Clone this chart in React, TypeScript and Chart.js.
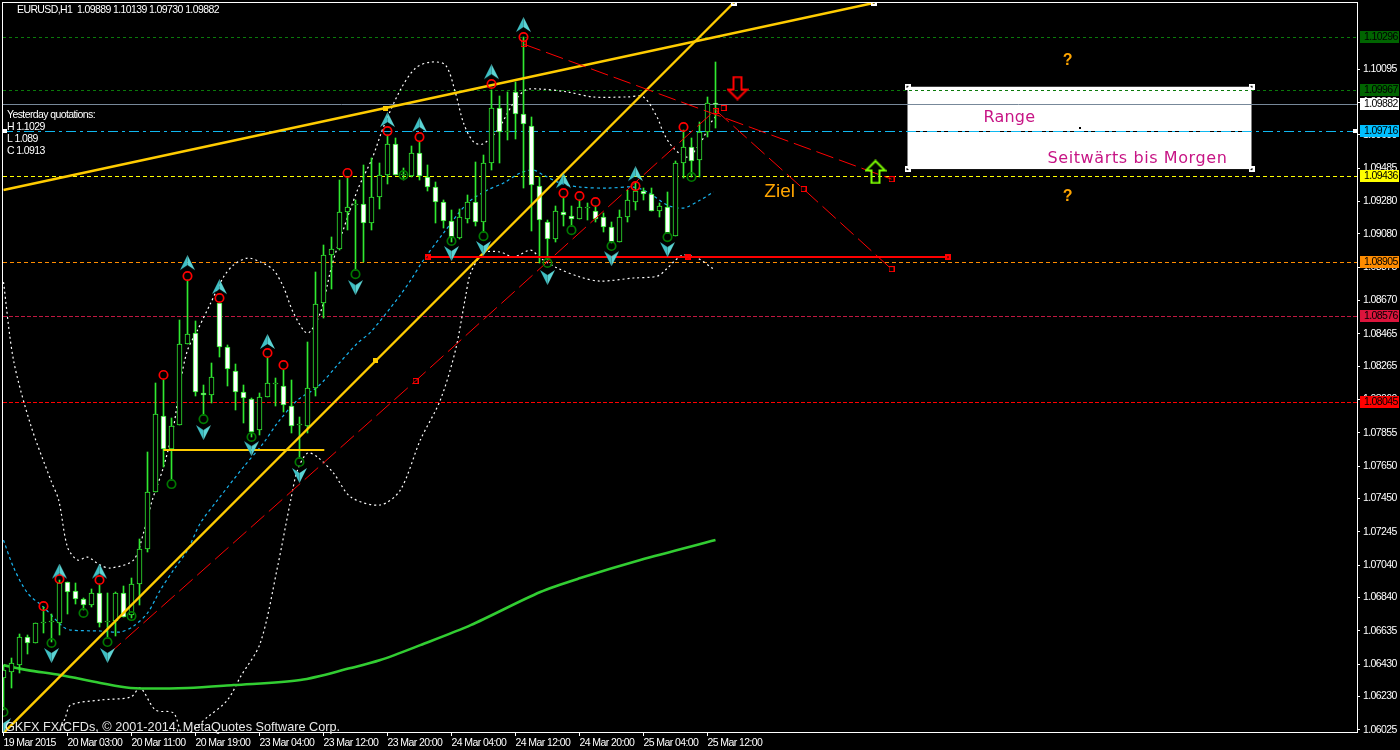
import React, { useEffect, useRef } from "react";
import { Chart, registerables } from "chart.js";

Chart.register(...registerables);

const barCount = 90;
const opens = [1.06344,1.06381,1.06424,1.06597,1.0656,1.06683,1.06689,1.06683,1.06936,1.0688,1.06831,1.06793,1.06868,1.06689,1.06695,1.06868,1.06732,1.06923,1.07139,1.0749,1.07958,1.07755,1.07902,1.08401,1.08469,1.081,1.08087,1.08654,1.08383,1.08235,1.08106,1.08063,1.07872,1.08075,1.08155,1.08143,1.08019,1.07902,1.07896,1.08131,1.08654,1.08949,1.08987,1.09215,1.09257,1.09263,1.09147,1.09307,1.09442,1.09633,1.09442,1.09436,1.09578,1.0943,1.09368,1.09276,1.09159,1.09054,1.09172,1.09276,1.09153,1.09517,1.09855,1.09707,1.09954,1.09818,1.09744,1.09374,1.09153,1.09048,1.09215,1.0919,1.09172,1.09239,1.09221,1.09184,1.09122,1.0903,1.09184,1.09276,1.09344,1.09325,1.09221,1.09245,1.09066,1.09517,1.09615,1.09535,1.09707,1.09889];
const highs = [1.06424,1.06468,1.06615,1.06609,1.06683,1.06781,1.06738,1.06948,1.06936,1.0693,1.06837,1.06893,1.06917,1.06868,1.06874,1.06911,1.0696,1.07201,1.07736,1.08162,1.0818,1.07946,1.08549,1.08795,1.08543,1.08149,1.08285,1.08654,1.08395,1.08278,1.08149,1.08069,1.081,1.08321,1.08192,1.08241,1.0818,1.07952,1.08414,1.08845,1.09011,1.0906,1.09411,1.09424,1.09288,1.09504,1.09547,1.09517,1.09688,1.0967,1.09486,1.09621,1.09646,1.09504,1.09399,1.09288,1.09227,1.09233,1.09319,1.09523,1.09565,1.09966,1.09929,1.09954,1.10015,1.10292,1.098,1.0943,1.09165,1.09251,1.09307,1.09251,1.09288,1.0927,1.09251,1.09209,1.09153,1.09227,1.0935,1.09399,1.09362,1.09362,1.0927,1.09338,1.09529,1.09719,1.0967,1.09769,1.09923,1.10139];
const lows = [1.06147,1.06283,1.06375,1.06492,1.0656,1.06622,1.06566,1.06609,1.06738,1.06799,1.06763,1.06781,1.06658,1.06597,1.06603,1.0672,1.06714,1.06793,1.0712,1.0749,1.07644,1.07564,1.07902,1.08401,1.08081,1.07964,1.08038,1.08321,1.08143,1.07995,1.07915,1.07829,1.07841,1.08075,1.08019,1.07983,1.07854,1.07699,1.07854,1.08081,1.08562,1.0874,1.0898,1.09103,1.08857,1.08907,1.09103,1.09233,1.09386,1.09442,1.09411,1.0943,1.09411,1.09344,1.09147,1.09116,1.0903,1.09048,1.09147,1.09128,1.09091,1.09473,1.09517,1.09658,1.09664,1.09362,1.09097,1.08901,1.08919,1.0903,1.09128,1.09128,1.09172,1.09165,1.09153,1.09091,1.09024,1.0903,1.09153,1.09227,1.09288,1.09221,1.09184,1.09085,1.09066,1.09424,1.0943,1.0943,1.09676,1.0973];
const closes = [1.06393,1.06437,1.06597,1.0656,1.06683,1.06683,1.06689,1.0693,1.06874,1.06831,1.06793,1.06868,1.06683,1.06689,1.06868,1.0672,1.06923,1.07139,1.0749,1.0797,1.07755,1.07896,1.08401,1.08462,1.08106,1.08087,1.08198,1.08383,1.08248,1.08106,1.08069,1.0786,1.08075,1.08162,1.08155,1.08025,1.07896,1.07902,1.08131,1.08647,1.08949,1.08987,1.09215,1.09245,1.09257,1.09147,1.09307,1.09442,1.09633,1.09442,1.09442,1.09578,1.09436,1.09368,1.09276,1.09159,1.0906,1.09184,1.09276,1.09153,1.09517,1.09855,1.09707,1.09707,1.09818,1.09756,1.0938,1.09165,1.09048,1.09221,1.09196,1.09172,1.09245,1.09239,1.09172,1.09122,1.0903,1.09184,1.09288,1.09344,1.09325,1.09221,1.09251,1.09085,1.09517,1.09615,1.09529,1.09707,1.09886,1.09882];

const upperBars = [0,1.25,3.4,5.9,6.9,8,9.25,10.5,12.1,13.4,16.25,17.5,18.6,20,21.25,22.1,23,24.25,25.9,27.5,28.75,30.5,32.1,33.75,35,36.25,38,39.6,40.9,41.75,44.25,46.1,47.5,49.6,51.5,53.4,55.25,56.5,57.5,58.75,59.9,61.75,63.75,65.25,67.1,70.5,73.75,78,80,81.75,82.5,83.75,85.5,87.1,88.4,89];
const upperBand = [1.08783,1.08303,1.07902,1.07564,1.0744,1.07151,1.07071,1.07089,1.0704,1.07022,1.07071,1.07238,1.0744,1.07644,1.0789,1.08162,1.08364,1.08487,1.08654,1.08814,1.08888,1.08931,1.08907,1.08857,1.08752,1.08593,1.08469,1.08593,1.08857,1.09,1.0935,1.09547,1.09738,1.09966,1.10101,1.10138,1.1012,1.09948,1.09763,1.09646,1.09633,1.09719,1.09886,1.09966,1.09972,1.09954,1.09923,1.09923,1.09923,1.09794,1.09701,1.09608,1.09553,1.09639,1.09763,1.098];
const middleBars = [0,1.25,3,5,7.5,8.4,12.1,14.6,16.25,18,19.6,21.25,23,24.6,26.75,30,32.5,34.25,36.75,39.25,41.75,44.25,45.9,49.4,50.9,52.5,55,58,60.5,62.5,64.6,66.25,67.5,69.6,72.1,75.5,78.75,80.5,83,85,87.1,88.75];
const middleBand = [1.07194,1.07027,1.06868,1.06781,1.06658,1.0664,1.06634,1.06628,1.06664,1.06745,1.06886,1.07009,1.07132,1.07298,1.0744,1.07644,1.07792,1.07915,1.08056,1.08137,1.08272,1.08407,1.08475,1.0869,1.08795,1.08919,1.09085,1.0927,1.0935,1.09393,1.09455,1.09473,1.09442,1.09393,1.09368,1.09362,1.09368,1.09338,1.09257,1.09239,1.09288,1.09338];
const lowerBars = [6.9,7.75,8.4,12.1,15.9,17.1,19,21.25,22.5,25.5,28,29.6,32.1,34.25,35.9,36.75,38,39.25,41.25,43.4,47.1,49.6,52.1,54.6,56.5,57.75,58.4,60,62.1,63.75,65.9,67.1,69.25,72.1,74.6,78.75,81.75,83,83.75,85,86.75,88.75];
const lowerBand = [1.05993,1.06104,1.06178,1.06209,1.06227,1.06283,1.06147,1.06129,1.05993,1.06104,1.06209,1.0635,1.0656,1.07028,1.0744,1.07625,1.0773,1.07705,1.07607,1.07459,1.0741,1.07502,1.0781,1.08056,1.08364,1.08691,1.08839,1.08962,1.08968,1.08937,1.0898,1.08931,1.08869,1.08814,1.08789,1.08808,1.0882,1.08869,1.08907,1.0895,1.08931,1.08863];
const maBars = [0,3,7.1,12.1,15.9,23,28.75,37.1,43.4,47.1,52.1,58.4,67.1,72.1,79.6,89];
const maValues = [1.06424,1.06393,1.06363,1.06314,1.06283,1.06283,1.06301,1.06332,1.06406,1.06455,1.06547,1.0667,1.06874,1.0696,1.07071,1.07194];

const redCircleBars = [5,7,12,20,23,27,33,35,43,48,52,61,65,70,72,74,79,85];
const redCircleValues = [1.06787,1.06954,1.06948,1.08211,1.0882,1.08685,1.08346,1.08272,1.09455,1.09713,1.09676,1.10003,1.10292,1.09331,1.09313,1.09276,1.09374,1.09738];
const greenCircleBars = [0,6,10,13,16,21,25,31,37,44,50,56,60,68,71,76,83,86];
const greenCircleValues = [1.06135,1.0656,1.06745,1.06566,1.06726,1.07539,1.07939,1.07829,1.07675,1.08832,1.09442,1.09036,1.09066,1.08901,1.09103,1.09005,1.0906,1.0943];
const upArrowBars = [7,12,23,27,33,48,52,61,65,70,79];
const upArrowValues = [1.07,1.07,1.089,1.08752,1.08414,1.09781,1.0975,1.10076,1.10366,1.09405,1.09448];
const downArrowBars = [0,6,13,25,31,37,44,56,60,68,76,83];
const downArrowValues = [1.06055,1.06486,1.06486,1.07859,1.0776,1.07595,1.08752,1.08962,1.08993,1.08814,1.0893,1.08986];

const goldLineABars = [0,47.75,108.75];
const goldLineAValues = [1.0935,1.09855,1.10502];
const goldLineBBars = [0,46.5,91.25];
const goldLineBValues = [1.06006,1.08297,1.10502];
const goldFlatBars = [20,40.1];
const goldFlatValues = [1.07748,1.07748];
const redLineABars = [65,111];
const redLineAValues = [1.10249,1.09417];
const redLineBBars = [89,100,111];
const redLineBValues = [1.09843,1.09356,1.08863];
const redLineCBars = [13,51.5,89];
const redLineCValues = [1.06486,1.08174,1.09843];
const redFlatBars = [53,118];
const redFlatValues = [1.08937,1.08937];
const redAnchorBars = [65,51.5,89,90,111,100,111];
const redAnchorValues = [1.10249,1.08174,1.09837,1.09855,1.09417,1.09356,1.08863];
const redSolidAnchorBars = [53,85.5,118];
const redSolidAnchorValues = [1.08937,1.08937,1.08937];
const goldAnchorBars = [47.75,46.5];
const goldAnchorValues = [1.09855,1.08297];
const whiteAnchorBars = [91.25,108.75,113,156,113,156];
const whiteAnchorValues = [1.10502,1.10502,1.09986,1.09986,1.09479,1.09479];
const rangeBox = { barFrom: 113, barTo: 156, top: 1.09986, bottom: 1.09479 };
const rangeCentre = [{ x: 134.5, y: 1.09732 }];

const levels = [1.10296,1.09967,1.09882,1.09716,1.09436,1.08905,1.08576,1.08045];
const levelColors = ["#0a7a0a","#0a7a0a","#778899","#10b8f0","#ffff00","#ff8c00","#c01840","#ff0000"];
const levelBoxes = ["#006400","#006400","#ffffff","#00bfff","#ffff00","#ff8c00","#dc143c","#ff0000"];
const levelDashes = [[3,3],[3,3],[],[10,4,3,4],[4,3],[4,3],[4,2],[4,2]];

const priceTicks = [1.10095,1.0989,1.0969,1.09485,1.0928,1.0908,1.08875,1.0867,1.08465,1.08265,1.0806,1.07855,1.0765,1.0745,1.07245,1.0704,1.0684,1.06635,1.0643,1.0623,1.06025];
const timeTickBars = [0,8,16,24,32,40,48,56,64,72,80,88];
const timeTickLabels = ["19 Mar 2015","20 Mar 03:00","20 Mar 11:00","20 Mar 19:00","23 Mar 04:00","23 Mar 12:00","23 Mar 20:00","24 Mar 04:00","24 Mar 12:00","24 Mar 20:00","25 Mar 04:00","25 Mar 12:00"];

const xMin = -0.0625;
const xMax = 169.1875;
const yMin = 1.06012;
const yMax = 1.10508;
const smallFont = "10.5px 'Liberation Sans'";
const candleGreen = "#30e830";

const pts = (xs: number[], ys: number[]) => xs.map((x, i) => ({ x, y: ys[i] }));

function sprite(w: number, h: number, draw: (c: CanvasRenderingContext2D) => void) {
  const cv = document.createElement("canvas");
  cv.width = w;
  cv.height = h;
  draw(cv.getContext("2d") as CanvasRenderingContext2D);
  return cv;
}

function dart(flip: boolean) {
  return sprite(15, 16, (c) => {
    if (flip) {
      c.translate(0, 16);
      c.scale(1, -1);
    }
    c.fillStyle = "#3fbfc4";
    c.beginPath();
    c.moveTo(7.5, 0);
    c.lineTo(0, 15);
    c.lineTo(7.5, 10);
    c.closePath();
    c.fill();
    c.fillStyle = "#5cd4d4";
    c.beginPath();
    c.moveTo(7.5, 0);
    c.lineTo(15, 15);
    c.lineTo(7.5, 10);
    c.closePath();
    c.fill();
  });
}

function square(color: string, solid: boolean, size: number) {
  return sprite(size, size, (c) => {
    c.strokeStyle = color;
    c.lineWidth = solid ? 2 : 1;
    const o = solid ? 1 : 0.5;
    c.strokeRect(o, o, size - 2 * o, size - 2 * o);
  });
}

function dot(color: string, size: number) {
  return sprite(size, size, (c) => {
    c.fillStyle = color;
    c.fillRect(0, 0, size, size);
  });
}

function blockArrow(color: string, down: boolean) {
  return sprite(22, 25, (c) => {
    if (down) {
      c.translate(0, 25);
      c.scale(1, -1);
    }
    c.strokeStyle = color;
    c.lineWidth = 2;
    c.beginPath();
    c.moveTo(11, 1.5);
    c.lineTo(20.5, 11);
    c.lineTo(15, 11);
    c.lineTo(15, 23.5);
    c.lineTo(7, 23.5);
    c.lineTo(7, 11);
    c.lineTo(1.5, 11);
    c.closePath();
    c.stroke();
  });
}

export default function App() {
  const ref = useRef<HTMLCanvasElement | null>(null);

  useEffect(() => {
    const line = (data: any[], color: string, width: number, dash: number[], tension = 0, snap = 0) => ({
      type: "line" as const,
      data,
      borderColor: color,
      borderWidth: width,
      borderDash: dash,
      pointRadius: 0,
      tension,
      fill: false,
      snap,
    });
    const marks = (data: any[], style: any, extra: any = {}) => ({
      type: "line" as const,
      data,
      showLine: false,
      pointStyle: style,
      pointRadius: 5,
      ...extra,
    });
    const ring = (color: string) => ({
      pointRadius: 4.2,
      pointBorderColor: color,
      pointBackgroundColor: "rgba(0,0,0,0)",
      pointBorderWidth: 1.7,
    });

    const bars = Array.from({ length: barCount }, (_, i) => i);
    const layers: any[] = [
      line(
        [{ x: rangeBox.barFrom, y: levels[3] }, { x: rangeBox.barTo, y: levels[3] }],
        "#000000",
        1,
        [],
        0,
        1
      ),
      ...levels.map((v, i) =>
        line([{ x: xMin, y: v }, { x: xMax, y: v }], levelColors[i], 1, levelDashes[i], 0, 1)
      ),
      line(pts(upperBars, upperBand), "#ffffff", 1.2, [2, 3], 0.3),
      line(pts(middleBars, middleBand), "#19b5f0", 1.2, [3, 3], 0.3),
      line(pts(lowerBars, lowerBand), "#ffffff", 1.2, [2, 3], 0.3),
      line(pts(maBars, maValues), "#32cd32", 2.6, [], 0.3),
      {
        type: "bar",
        data: bars.map((i) => ({ x: i, y: [lows[i], highs[i]] })),
        backgroundColor: candleGreen,
        borderWidth: 0,
        barThickness: 1,
        grouped: false,
        snapBar: true,
      },
      {
        type: "bar",
        data: bars.map((i) => ({ x: i, y: [opens[i], closes[i]] })),
        backgroundColor: bars.map((i) => (closes[i] < opens[i] ? "#ffffff" : "#000000")),
        borderColor: candleGreen,
        borderWidth: 1,
        borderSkipped: false,
        barThickness: 5,
        minBarLength: 1,
        grouped: false,
        snapBar: true,
      },
      line(pts(goldLineABars, goldLineAValues), "#ffcc00", 2.4, []),
      line(pts(goldLineBBars, goldLineBValues), "#ffcc00", 2.4, []),
      line(pts(goldFlatBars, goldFlatValues), "#ffcc00", 2, [], 0, 2),
      line(pts(redLineABars, redLineAValues), "#ff0000", 1, [18, 6]),
      line(pts(redLineBBars, redLineBValues), "#ff0000", 1, [18, 6]),
      line(pts(redLineCBars, redLineCValues), "#ff0000", 1, [18, 6]),
      line(pts(redFlatBars, redFlatValues), "#ff0000", 2, [], 0, 2),
      marks(pts(redCircleBars, redCircleValues), "circle", ring("#ff0000")),
      marks(pts(greenCircleBars, greenCircleValues), "circle", ring("#007a00")),
      marks(pts(upArrowBars, upArrowValues), dart(false)),
      marks(pts(downArrowBars, downArrowValues), dart(true)),
      marks(pts(redAnchorBars, redAnchorValues), square("#ff0000", false, 6)),
      marks(pts(redSolidAnchorBars, redSolidAnchorValues), square("#ff0000", true, 6)),
      marks(pts(goldAnchorBars, goldAnchorValues), square("#ffcc00", true, 5)),
      marks(pts(whiteAnchorBars, whiteAnchorValues), square("#ffffff", true, 6)),
      marks(rangeCentre, dot("#000000", 2)),
      marks([{ x: 91.75, y: 1.09978 }], blockArrow("#ff0000", true)),
      marks([{ x: 109, y: 1.09461 }], blockArrow("#7cfc00", false)),
      marks(
        [{ x: 0.2, y: 1.09716 }, { x: 168.9, y: 1.09716 }],
        square("#ffffff", true, 4)
      ),
    ];
    layers.forEach((d, i) => {
      d.order = layers.length - i;
    });

    const decor = {
      id: "decor",
      afterDatasetsUpdate(chart: any) {
        chart.data.datasets.forEach((ds: any, i: number) => {
          const meta = chart.getDatasetMeta(i);
          if (ds.snapBar) {
            meta.data.forEach((el: any) => {
              const top = Math.round(Math.min(el.y, el.base));
              let bottom = Math.round(Math.max(el.y, el.base));
              if (bottom <= top) bottom = top + 1;
              el.y = top;
              el.base = bottom;
              el.height = bottom - top;
            });
          } else if (ds.snap === 1) {
            meta.data.forEach((el: any) => {
              el.y = Math.floor(el.y + 0.6) + 0.5;
            });
          } else if (ds.snap === 2) {
            meta.data.forEach((el: any) => {
              el.y = Math.round(el.y);
            });
          }
        });
      },
      beforeDraw(chart: any) {
        chart.ctx.letterSpacing = "-0.6px";
      },
      beforeDatasetsDraw(chart: any) {
        const { ctx, scales } = chart;
        const x1 = scales.x.getPixelForValue(rangeBox.barFrom);
        const x2 = scales.x.getPixelForValue(rangeBox.barTo);
        const y1 = scales.y.getPixelForValue(rangeBox.top);
        const y2 = scales.y.getPixelForValue(rangeBox.bottom);
        ctx.save();
        ctx.fillStyle = "#ffffff";
        ctx.fillRect(x1, y1, x2 - x1, y2 - y1);
        ctx.restore();
      },
      afterDraw(chart: any) {
        const { ctx, scales } = chart;
        const X = (b: number) => scales.x.getPixelForValue(b);
        const Y = (p: number) => scales.y.getPixelForValue(p);
        ctx.save();
        ctx.strokeStyle = "#ffffff";
        ctx.lineWidth = 1;
        ctx.strokeRect(2.5, 2.5, 1355, 730);
        ctx.textBaseline = "middle";
        ctx.textAlign = "left";

        levels.forEach((v, i) => {
          const y = Math.floor(Y(v) + 0.6);
          ctx.fillStyle = levelBoxes[i];
          ctx.fillRect(1360, y - 6, 39, 12);
          ctx.fillStyle = "#000000";
          ctx.font = smallFont;
          ctx.fillText(v.toFixed(5), 1364, y);
        });

        const text = (s: string, x: number, y: number, font: string, color: string, sp = "-0.6px") => {
          ctx.font = font;
          ctx.fillStyle = color;
          ctx.letterSpacing = sp;
          ctx.fillText(s, x, y);
        };
        text("EURUSD,H1  1.09889 1.10139 1.09730 1.09882", 17, 10, smallFont, "#ffffff");
        text("Yesterday quotations:", 7, 115, smallFont, "#ffffff");
        text("H 1.1029", 7, 127, smallFont, "#ffffff");
        text("L 1.089", 7, 139, smallFont, "#ffffff");
        text("C 1.0913", 7, 151, smallFont, "#ffffff");
        text("GKFX FX/CFDs, \u00a9 2001-2014, MetaQuotes Software Corp.", 5, 727, "12.7px 'Liberation Sans'", "#e8e8e8", "0px");

        const magenta = "#c71585";
        const orange = "#ffa500";
        text("Range", X(122.5), Y(1.09795), "16px 'DejaVu Sans'", magenta, "0.2px");
        text("Seitw\u00e4rts bis Morgen", X(130.5), Y(1.09544), "16px 'DejaVu Sans'", magenta, "0.6px");
        text("?", X(132.4), Y(1.1015), "bold 16px 'Liberation Sans'", orange, "0px");
        text("?", X(132.4), Y(1.09307), "bold 16px 'Liberation Sans'", orange, "0px");
        text("Ziel", X(95.1), Y(1.09338), "19px 'Liberation Sans'", orange, "0px");
        ctx.restore();
      },
    };

    const chart = new Chart(ref.current as HTMLCanvasElement, {
      type: "bar",
      data: { datasets: layers },
      plugins: [decor],
      options: {
        responsive: false,
        animation: false,
        layout: { autoPadding: false, padding: { left: 3, top: 2, right: 0, bottom: 0 } },
        plugins: { legend: { display: false }, tooltip: { enabled: false } },
        scales: {
          x: {
            type: "linear",
            min: xMin,
            max: xMax,
            offset: false,
            border: { display: false },
            grid: { offset: false, drawOnChartArea: false, tickLength: 4, color: "#ffffff" },
            afterBuildTicks: (s: any) => {
              s.ticks = timeTickBars.map((value) => ({ value }));
            },
            afterFit: (s: any) => {
              s.height = 18;
              s.paddingLeft = 0;
              s.paddingRight = 0;
            },
            ticks: {
              autoSkip: false,
              maxRotation: 0,
              minRotation: 0,
              align: "start",
              padding: 1,
              color: "#ffffff",
              font: { family: "'Liberation Sans'", size: 10.5 },
              callback: (v: any) => timeTickLabels[timeTickBars.indexOf(Number(v))] ?? "",
            },
          },
          y: {
            type: "linear",
            position: "right",
            min: yMin,
            max: yMax,
            border: { display: false },
            grid: { drawOnChartArea: false, tickLength: 3, color: "#ffffff" },
            afterBuildTicks: (s: any) => {
              s.ticks = priceTicks.map((value) => ({ value }));
            },
            afterFit: (s: any) => {
              s.width = 43;
              s.paddingTop = 0;
              s.paddingBottom = 0;
            },
            ticks: {
              autoSkip: false,
              padding: 3,
              color: "#ffffff",
              font: { family: "'Liberation Sans'", size: 10.5 },
              callback: (v: any) => Number(v).toFixed(5),
            },
          },
        },
      },
    } as any);
    return () => chart.destroy();
  }, []);

  return (
    <div style={{ position: "fixed", left: 0, top: 0, width: 1400, height: 750, background: "#000" }}>
      <canvas ref={ref} width={1400} height={750} style={{ display: "block" }} />
    </div>
  );
}
